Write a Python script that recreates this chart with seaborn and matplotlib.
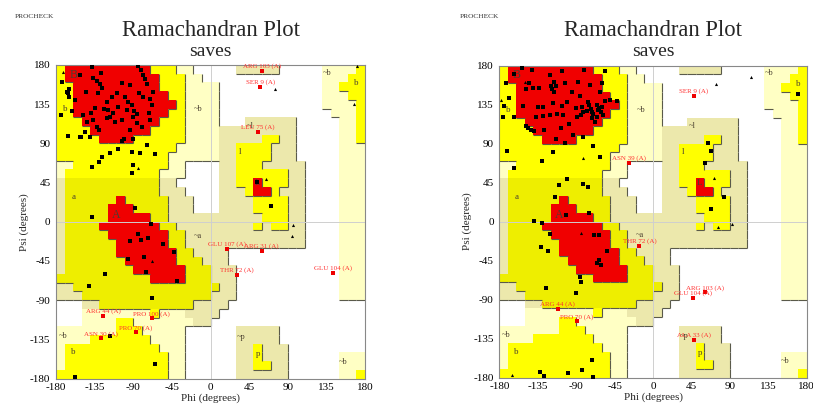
import numpy as np
import pandas as pd
import matplotlib
matplotlib.use("Agg")
import matplotlib.pyplot as plt
from matplotlib.colors import ListedColormap
from matplotlib.collections import LineCollection
import seaborn as sns

sns.set_theme(style="white")
plt.rcParams['font.family'] = ['Liberation Serif', 'DejaVu Serif']

# ---------------- region map (10 deg cells, top row = psi 170..180, col 0 = phi -180..-170)
# . disallowed  c/k generously allowed  y/d additionally allowed  r most favoured
REGION_ROWS = [
    "yrrrrrrrrrryyycc.....kkkkk.....ccccy",
    "yrrrrrrrrrrryyycc..............cccyy",
    "yyrrrrrrrrrryyycccc............ccyyy",
    "yyrrrrrrrrrrryycccc............cccyy",
    "yyrrrrrrrrrrrrycccc............ccccy",
    "yyrrrrrrrrrrryycccc.............cccy",
    "yyyrrrrrrrrryyycccc...kkkkkk.....ccy",
    "yyyyrrrrrrryyyycccckkkkkkkkk.....ccy",
    "yyyyyrrrryyyyyycccckkkkkyykk.....ccy",
    "yyyyyyyyyyyyyyccccckkyyyykkk.....ccc",
    "yyyyyyyyyyyyycccccckkyyyykkk.....ccc",
    "ccyyyyyyyyyyycc....kkyyykkkkk....ccc",
    "cyyyyyyyyyyyccc....kkyyyyyykk....ccc",
    "kdddddddddddkk.....kkyyryyykk....ccc",
    "kdddddddddddkkk....kkkyrrykkk....ccc",
    "kddddddrdddddkkk...kkkkyyyykk....ccc",
    "kdddddrrrddddkkk...kkkkyyyykk....ccc",
    "kdddddrrrrrddkkkkkkkkkkkyyykk....ccc",
    "kddddrrrrrrrddkkkkkkkkkykyykk....ccc",
    "kdddddrrrrrrrddkkkkkkkkkkkkkk....ccc",
    "kddddddrrrrrrddkkkkkkkkkkkkkk....ccc",
    "kddddddrrrrrrrddkkkk.............ccc",
    "kdddddddrrrrrrdddkkk.............ccc",
    "kddddddddrrrrrrdddkkk............ccc",
    "dddddddddddrrrrdddkkk............ccc",
    "kkdddddddddddddddddkk............ccc",
    "kkkdddddddddddddddkkk............ccc",
    "...kkdddddddddddkkkk................",
    "...ccccccccyccckkkk.................",
    "...ccccyyccccccckk..................",
    "cccccccyyyccccc......kkkkk..........",
    "ccccyyyyyyycccc......kkkkk..........",
    "cyyyyyyyyyyyccc......kkykkk.........",
    "cyyyyyyyyyyyycc......kkykkk......ccc",
    "cyyyyyyyyyyyycc......kkyykk......ccc",
    "yyyyyyyyyyyyycc......kkkkkk......ccy",
]
CODES = {'.': 0, 'c': 1, 'k': 2, 'y': 3, 'd': 4, 'r': 5}
REGION_COLORS = ['#FFFFFF', '#FFFFC4', '#ECE8AC', '#FFFF00', '#EEEE00', '#F00000']
LEVEL = {'.': 0, 'c': 1, 'k': 1, 'y': 2, 'd': 2, 'r': 3}

REGION_LABELS = [("B", -160, 169, 8.5), ("b", -169, 129, 6.5), ("~b", -14, 129, 6),
                 ("A", -110, 8, 8.5), ("a", -160, 28, 6.5), ("~a", -15, -16, 6),
                 ("L", 55, 44, 6.5), ("l", 35, 80, 6.5), ("~l", 46, 110, 6),
                 ("p", 55, -152, 6.5), ("~p", 36, -132, 6), ("b", -160, -150, 6.5),
                 ("~b", -172, -131, 6), ("~b", 136, 171, 6), ("b", 170, 159, 6.5),
                 ("~b", 155, -161, 6)]

# ---------------- left panel data
L_res_phi = [-173.4, -166.8, -165.6, -164.5, -174.2, -161.7, -138.4, -127.9, -137.3, -132.6,
             -128.7, -126.8, -130.7, -145.0, -103.5, -93.8, -84.0, -81.3, -79.0, -76.3,
             -74.3, -82.9, -78.2, -70.4, -68.5, -71.2, -95.7, -91.8, -89.1, -85.2,
             -90.6, -107.3, -113.2, -117.1, -120.9, -119.0, -124.0, -134.5, -139.6, -143.5,
             -136.5, -132.6, -129.5, -146.2, -165.6, -151.3, -140.4, -103.5, -100.7, -89.9,
             -74.3, -82.1, -91.8, -107.3, -117.1, -126.8, -129.5, -138.4, -89.9, -91.8,
             -64.6, -115.1, -109.3, -120.9, -99.6, -97.6, -111.2, -103.5, -86.0, -80.2,
             -93.8, -70.4, -66.6, -152.0, -157.9, -148.1, -164.8, -152.0, -140.4,
             -138.4, -88.3, -69.6, -84.1, -93.8, -80.9, -72.4, -55.7, -42.1, -95.7,
             -77.1, -75.1, -39.4, -122.9, -141.2, -67.8, -117.1, -64.6, -157.5, 54.7, 70.2]
L_res_psi = [160.9, 149.4, 147.5, 152.0, 122.6, 127.6, 177.3, 171.2, 164.7, 162.0,
             158.2, 153.2, 148.2, 149.4, 158.9, 157.0, 178.9, 174.3, 168.5, 163.5,
             158.2, 147.5, 143.6, 140.6, 134.1, 125.3, 137.9, 134.1, 127.6, 123.7,
             119.9, 132.2, 124.5, 119.9, 118.8, 128.3, 129.1, 130.2, 124.5, 115.0,
             116.9, 109.2, 105.4, 103.5, 98.5, 97.0, 97.0, 93.1, 95.4, 94.7,
             88.2, 79.3, 80.1, 83.2, 78.6, 74.0, 69.0, 63.3, 65.2, 55.6,
             77.8, 143.6, 148.2, 137.9, 143.6, 128.3, 114.9, 116.9, 113.0, 109.2,
             105.4, 116.9, 149.4, 168.5, 139.8, 122.6, 143.6, 97.7, 97.7,
             5.9, 15.5, -2.5, -14.4, -22.0, -20.9, -18.3, -25.9, -34.3, -42.7,
             -40.8, -57.3, -67.6, -60.3, -73.7, -87.2, -131.1, -163.6, -178.6, 46.1, 18.1]
L_gly_phi = [-171.5, 75.6, 170.5, 167.7, 64.7, 96.6, 95.4, -67.9, -84.0]
L_gly_psi = [172.3, 152.1, 179.0, 135.2, 49.5, -3.7, -15.9, -45.0, 61.4]
L_lab_text = ["ARG 103 (A)", "SER 9 (A)", "LEU 75 (A)", "GLU 107 (A)", "ARG 31 (A)",
              "THR 72 (A)", "GLU 104 (A)", "ARG 44 (A)", "PRO 100 (A)", "PRO 70 (A)",
              "ASN 30 (A)"]
L_lab_phi = [59.7, 57.8, 55.0, 18.9, 59.7, 30.6, 143.3, -124.9, -68.5, -87.1, -127.6]
L_lab_psi = [173.1, 155.1, 103.5, -31.3, -33.6, -60.6, -58.3, -108.2, -110.8, -126.9, -133.8]

# ---------------- right panel data
R_res_phi = [-172.5, -168.6, -174.1, -162.4, -175.3, -153.8, -141.3, -120.6, -106.9, -80.8,
             -56.2, -148.3, -140.5, -133.5, -120.0, -118.0, -116.0, -114.0, -115.8, -103.0,
             -87.5, -73.7, -62.0, -60.1, -50.4, -42.6, -56.2, -152.2, -135.0, -128.4,
             -116.7, -106.9, -101.1, -90.6, -83.5, -81.6, -75.8, -70.0, -64.1, -60.1,
             -137.0, -128.4, -120.6, -112.8, -105.0, -89.5, -84.4, -71.7, -67.8, -149.1,
             -146.0, -143.0, -139.0, -127.2, -113.6, -103.0, -93.3, -81.6, -70.8, -171.3,
             -162.4, -130.4, -117.5, -62.1, -101.1, -109.7, -81.6, -75.8, -114.8, -163.0,
             -145.0, -95.0, -85.0, -77.0, -66.0, -98.0, -108.0, -75.0, -73.0, -71.0,
             -65.0, -63.0, -61.0, -59.0,
             169.4, 64.4, 68.3, 60.9, 83.6, 68.0,
             -139.3, -129.5, -120.6, -101.9, -74.9, -68.9, -62.8, -131.5, -123.4, -54.3,
             -65.9, -62.8, -61.3, -85.5, -84.3, -125.3, -90.6,
             -71.8, -83.1, -99.1, -132.3, -127.3, -70.6]
R_res_psi = [160.3, 143.0, 133.3, 121.0, 120.2, 176.9, 174.9, 169.1, 173.8, 174.9,
             173.8, 152.6, 153.8, 153.8, 157.0, 153.0, 150.0, 156.0, 161.4, 160.3,
             161.4, 157.5, 149.8, 160.3, 140.2, 139.4, 139.0, 133.3, 132.5, 132.5,
             136.4, 133.3, 138.3, 130.6, 132.5, 126.7, 138.3, 124.8, 128.7, 132.5,
             121.0, 121.8, 122.9, 124.8, 122.9, 121.0, 122.9, 119.1, 115.2, 110.2,
             108.0, 106.0, 105.0, 105.5, 95.8, 90.7, 99.8, 97.8, 87.2, 81.6,
             62.2, 69.6, 80.5, 74.6, 49.5, 41.8, 43.7, 39.8, 28.3, 170.0,
             160.0, 150.0, 145.0, 128.0, 121.0, 113.0, 108.0, 135.0, 130.0, 126.0,
             135.0, 131.0, 127.0, 123.0,
             146.8, 91.0, 81.2, 67.6, 28.3, 15.0,
             0.3, -1.6, -14.0, 7.9, 9.8, -15.1, -15.1, -28.8, -34.3, -34.3,
             -48.2, -44.3, -49.7, -64.4, -70.2, -76.8, -82.6,
             -159.7, -171.3, -175.2, -173.7, -178.3, -179.2]
R_gly_phi = [-84.7, 73.7, 114.3, 71.9, 76.5, 92.1, -165.5, -178.4, -81.6, -149.7]
R_gly_psi = [-13.2, 158.4, 167.3, 50.7, -6.8, -2.9, -177.5, 140.2, 73.5, 161.5]
R_lab_text = ["ASN 39 (A)", "SER 9 (A)", "THR 72 (A)", "ARG 103 (A)", "GLU 104 (A)",
              "ARG 44 (A)", "PRO 70 (A)", "ALA 33 (A)"]
R_lab_phi = [-28.0, 47.6, -16.0, 61.0, 47.2, -111.6, -89.4, 48.4]
R_lab_psi = [68.1, 145.3, -28.0, -81.6, -87.8, -100.9, -115.2, -136.2]

TICKS = [-180, -135, -90, -45, 0, 45, 90, 135, 180]

W, H = 813, 407
fig = plt.figure(figsize=(W / 100, H / 100), dpi=100)


def draw_regions(ax):
    grid = np.array([[CODES[ch] for ch in row] for row in REGION_ROWS])[::-1]
    lv = np.array([[LEVEL[ch] for ch in row] for row in REGION_ROWS])[::-1]
    edges = np.arange(-180, 181, 10)
    ax.pcolormesh(edges, edges, grid, cmap=ListedColormap(REGION_COLORS),
                  vmin=-0.5, vmax=5.5, shading='flat', zorder=0)
    segs = []
    for i in range(36):
        for j in range(36):
            x0, y0 = -180 + 10 * j, -180 + 10 * i
            if j < 35 and lv[i, j] > lv[i, j + 1]:
                segs.append([(x0 + 10, y0), (x0 + 10, y0 + 10)])
            if i > 0 and lv[i, j] > lv[i - 1, j]:
                segs.append([(x0, y0), (x0 + 10, y0)])
    ax.add_collection(LineCollection(segs, colors='#5a5a4a', linewidths=0.8, zorder=1))


def panel(rect, res_phi, res_psi, gly_phi, gly_psi, lab_text, lab_phi, lab_psi):
    ax = fig.add_axes(rect)
    draw_regions(ax)
    ax.axhline(0, color='#cfcfcf', lw=0.7, zorder=1.5)
    ax.axvline(0, color='#cfcfcf', lw=0.7, zorder=1.5)
    for t, x, y, fs in REGION_LABELS:
        ax.text(x, y, t, ha='center', va='center', fontsize=fs, color='#4a4030', zorder=2)
    sns.scatterplot(x=res_phi, y=res_psi, marker='s', color='black', s=7, linewidth=0,
                    ax=ax, zorder=3)
    sns.scatterplot(x=gly_phi, y=gly_psi, marker='^', color='black', s=5, linewidth=0,
                    ax=ax, zorder=3)
    sns.scatterplot(x=lab_phi, y=lab_psi, marker='s', color='#EE0000', s=6, linewidth=0,
                    ax=ax, zorder=4)
    for t, x, y in zip(lab_text, lab_phi, lab_psi):
        ax.annotate(t, (x, y), xytext=(0, 1.2), textcoords='offset points', ha='center',
                    va='bottom', fontsize=5, color='#FF3030', zorder=5)
    ax.set_xlim(-180, 180)
    ax.set_ylim(-180, 180)
    ax.set_xticks(TICKS)
    ax.set_yticks(TICKS)
    ax.set_xticklabels([str(t) for t in TICKS])
    ax.set_yticklabels([str(t) for t in TICKS])
    ax.tick_params(direction='in', length=2.5, width=0.6, color='#666666', labelsize=8,
                   labelcolor='black', pad=3)
    ax.tick_params(axis='y', pad=4)
    for s in ax.spines.values():
        s.set_color('#888888')
        s.set_linewidth(0.8)
    ax.set_xlabel("Phi (degrees)", fontsize=8, labelpad=1)
    ax.set_ylabel("Psi (degrees)", fontsize=8, labelpad=1)
    return ax


def px_rect(x0, x1, y0, y1):
    return [x0 / W, 1 - y1 / H, (x1 - x0) / W, (y1 - y0) / H]


panel(px_rect(56, 365, 65, 378.5), L_res_phi, L_res_psi, L_gly_phi, L_gly_psi,
      L_lab_text, L_lab_phi, L_lab_psi)
panel(px_rect(499.3, 806.7, 65.7, 377.5), R_res_phi, R_res_psi, R_gly_phi, R_gly_psi,
      R_lab_text, R_lab_phi, R_lab_psi)

for cx, px in [(210.5, 15), (653, 460)]:
    fig.text(px / W, 1 - 16 / H, "PROCHECK", fontsize=5.3, color='#333333', ha='left', va='center')
    fig.text(cx / W, 1 - 31 / H, "Ramachandran Plot", fontsize=16.3, ha='center', va='center')
    fig.text(cx / W, 1 - 52 / H, "saves", fontsize=14, ha='center', va='center')

fig.savefig("out.png", dpi=100)
